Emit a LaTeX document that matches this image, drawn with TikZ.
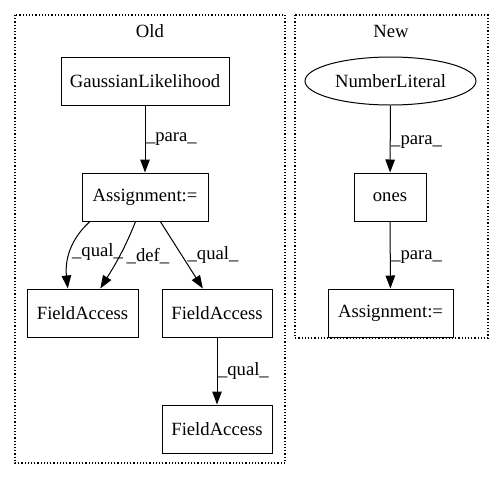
\documentclass[tikz,border=0pt]{standalone}
\usepackage{fontspec}
\setmainfont{Liberation Serif}
\usepackage{tikz}
\usetikzlibrary{arrows.meta,shapes.geometric}

\begin{document}
\begin{tikzpicture}[x=1pt, y=-1pt,
		every node/.style={font=\fontsize{18.67}{22}\selectfont},
		box/.style={draw, line width=1pt, rectangle, minimum height=48pt, inner sep=0pt},
		oval/.style={draw, line width=1pt, ellipse, minimum height=48pt, inner sep=0pt},
		cluster/.style={draw, line width=1.2pt, dotted},
		edge/.style={line width=1pt, -{Triangle[length=13pt,width=9.5pt]}},
		elabel/.style={right, inner sep=0.5pt}]
			%%%%% START %%%%%
			
			\useasboundingbox (0, 0) rectangle (503, 480);
			
			\draw[cluster] (15, 15) rectangle (285, 463);
			\node (oldTitle) at (150, 31) {Old};
			
			\draw[cluster] (295, 15) rectangle (488, 338);
			\node (newTitle) at (391, 31) {New};
			
			\node[box, minimum width=168pt] (gauss) at (145, 81) {GaussianLikelihood};
			\node[box, minimum width=126pt] (assignOld) at (145, 197) {Assignment:=};
			\node[box, minimum width=111pt] (fieldA) at (82.5, 313) {FieldAccess};
			\node[box, minimum width=110pt] (fieldB) at (217, 313) {FieldAccess};
			\node[box, minimum width=110pt] (fieldC) at (217, 429) {FieldAccess};
			
			\node[oval, minimum width=171pt] (numLit) at (390.5, 81) {NumberLiteral};
			\node[box, minimum width=72pt] (ones) at (390, 197) {ones};
			\node[box, minimum width=125pt] (assignNew) at (390.5, 313) {Assignment:=};
			
			\draw[edge] (gauss) -- node[elabel, pos=0.5] {\_para\_} (assignOld);
			\draw[edge] (assignOld.204) to[out=222, in=96] node[elabel, pos=0.5, xshift=1pt] {\_qual\_} (fieldA.121);
			\draw[edge] (assignOld.249) to[out=-112, in=58] node[elabel, pos=0.5, xshift=6pt] {\_def\_} (fieldA.54);
			\draw[edge] (assignOld.302) -- node[elabel, pos=0.5, xshift=5pt] {\_qual\_} (fieldB.120);
			\draw[edge] (fieldB) -- node[elabel, pos=0.5] {\_qual\_} (fieldC);
			
			\draw[edge] (numLit) -- node[elabel, pos=0.55] {\_para\_} (ones);
			\draw[edge] (ones) -- node[elabel, pos=0.53] {\_para\_} (assignNew);
			
			%%%%% END %%%%%
		\end{tikzpicture}
\end{document}
